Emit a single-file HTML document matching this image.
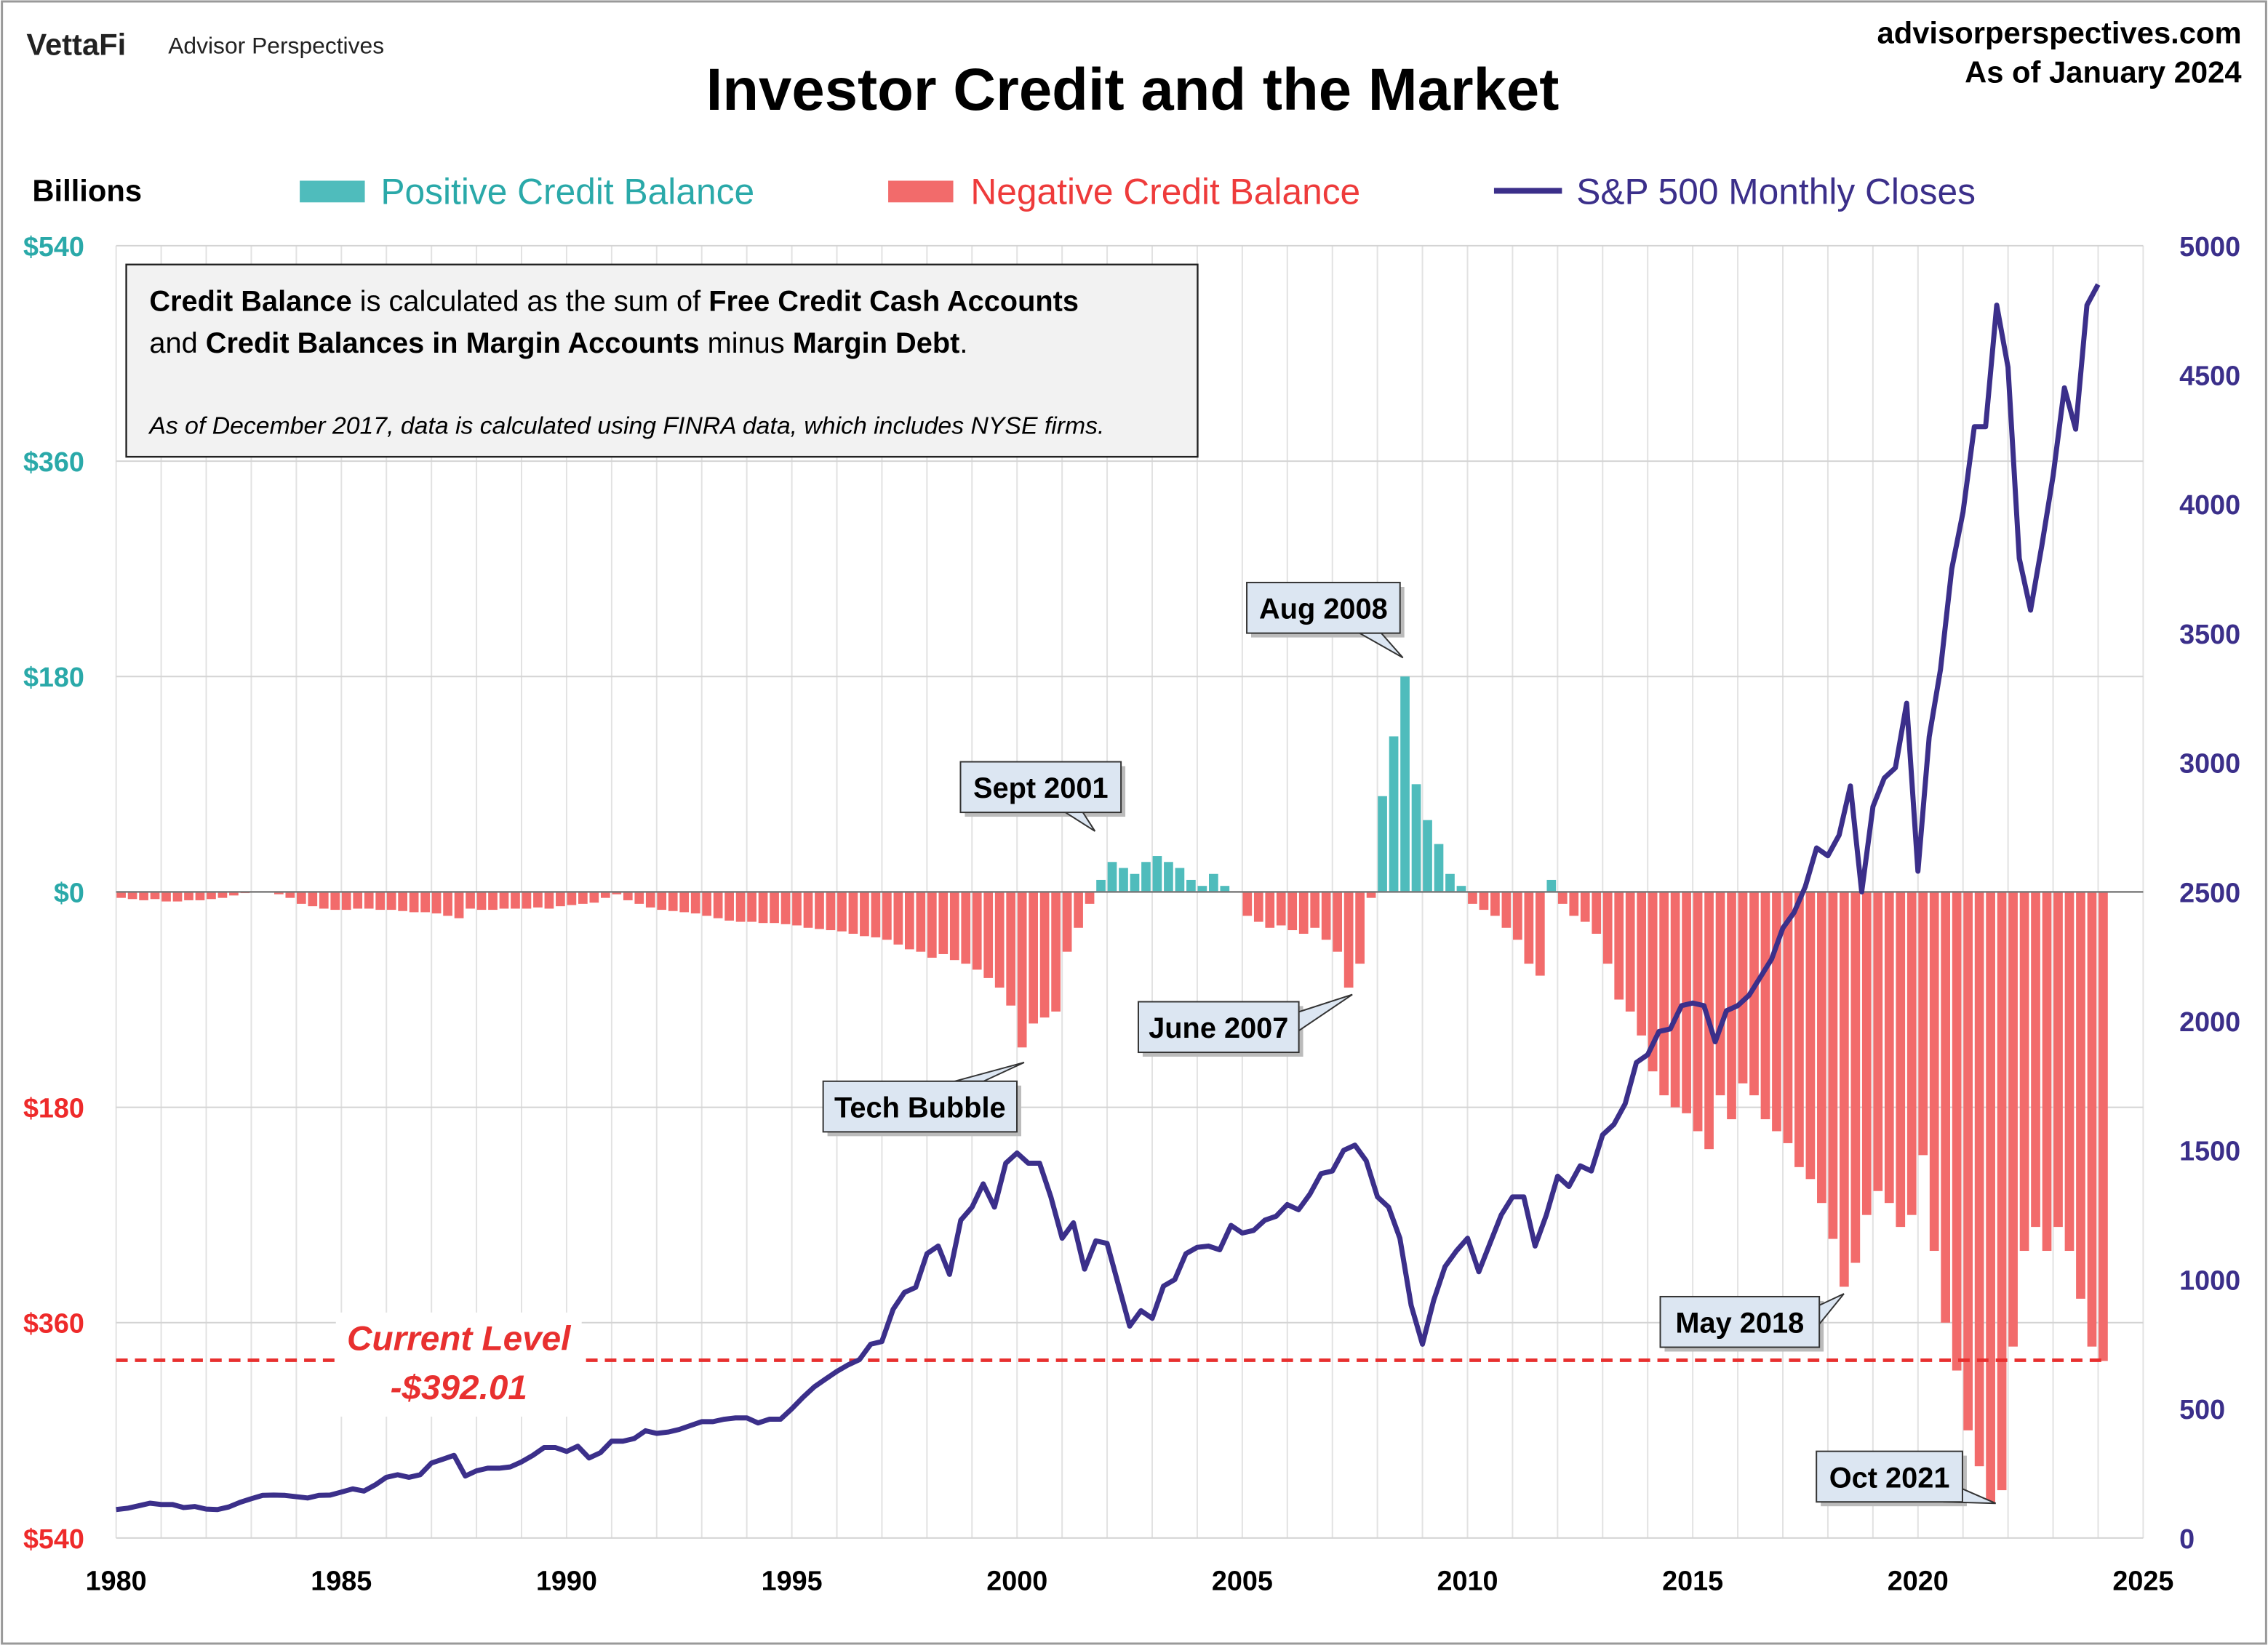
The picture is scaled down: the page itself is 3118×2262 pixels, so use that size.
<!DOCTYPE html>
<html><head><meta charset="utf-8"><style>
html,body{margin:0;padding:0;background:#fff;}
svg{display:block;font-family:"Liberation Sans",sans-serif;}
</style></head><body>
<svg id="chart" width="3118" height="2262" viewBox="0 0 1568 1138" xmlns="http://www.w3.org/2000/svg">
<rect x="1" y="1" width="1566" height="1136" fill="#fff" stroke="#999" stroke-width="1.5"/>
<text x="18" y="38" font-size="21" font-weight="bold" fill="#222">VettaFi</text>
<text x="116" y="37" font-size="16" fill="#222">Advisor Perspectives</text>
<text x="783" y="76" font-size="41" font-weight="bold" text-anchor="middle" fill="#000">Investor Credit and the Market</text>
<text x="1550" y="30" font-size="21" font-weight="bold" text-anchor="end" fill="#000">advisorperspectives.com</text>
<text x="1550" y="57" font-size="21" font-weight="bold" text-anchor="end" fill="#000">As of January 2024</text>
<text x="22" y="139" font-size="21" font-weight="bold" fill="#000">Billions</text>
<g>
<g><rect x="207" y="125" width="45" height="15" fill="#4fbcbc"/><text x="263" y="141" font-size="25" fill="#2aa9a9">Positive Credit Balance</text></g>
<g><rect x="614" y="125" width="45" height="15" fill="#f26b6b"/><text x="671" y="141" font-size="25" fill="#ee3b3b">Negative Credit Balance</text></g>
<g><line x1="1033" y1="132" x2="1080" y2="132" stroke="#3b2f8a" stroke-width="4"/><text x="1090" y="141" font-size="25" fill="#3b2f8a">S&amp;P 500 Monthly Closes</text></g>
</g>
<g id="grid"></g>
<g id="bars"></g>
<line x1="80" y1="617" x2="1482" y2="617" stroke="#777" stroke-width="1.2"/>
<line x1="80" y1="941" x2="1455" y2="941" stroke="#e8302f" stroke-width="2.5" stroke-dasharray="8,5"/>
<path id="spline" fill="none" stroke="#3b2f8a" stroke-width="3.5" stroke-linejoin="round"/>
<g id="axes"></g>
<g>
<rect x="87" y="183" width="741" height="133" fill="#f2f2f2" stroke="#222" stroke-width="1.2"/>
<text x="103" y="215" font-size="20" fill="#000"><tspan font-weight="bold">Credit Balance</tspan> is calculated as the sum of <tspan font-weight="bold">Free Credit Cash Accounts</tspan></text>
<text x="103" y="244" font-size="20" fill="#000">and <tspan font-weight="bold">Credit Balances in Margin Accounts</tspan> minus <tspan font-weight="bold">Margin Debt</tspan>.</text>
<text x="103" y="300" font-size="17" font-style="italic" fill="#000">As of December 2017, data is calculated using FINRA data, which includes NYSE firms.</text>
</g>
<g>
<rect x="232" y="908" width="170" height="72" fill="#fff"/>
<text x="317" y="934" font-size="24" font-weight="bold" font-style="italic" text-anchor="middle" fill="#e8302f">Current Level</text>
<text x="317" y="968" font-size="24" font-weight="bold" font-style="italic" text-anchor="middle" fill="#e8302f">-$392.01</text>
</g>
<g id="callouts"></g>
</svg>
<script>
const NS="http://www.w3.org/2000/svg";
const startYear=1980;
const credit=[-5,-6,-7,-6,-8,-8,-7,-7,-6,-5,-3,-1,0,0,-2,-5,-10,-12,-14,-15,-15,-14,-14,-15,-15,-16,-17,-17,-18,-20,-22,-14,-15,-15,-14,-14,-14,-13,-14,-12,-11,-10,-9,-5,-2,-7,-10,-13,-15,-16,-17,-18,-20,-22,-24,-25,-25,-26,-26,-27,-28,-30,-31,-32,-33,-35,-37,-38,-40,-44,-48,-50,-55,-52,-57,-60,-65,-72,-80,-95,-130,-110,-105,-100,-50,-30,-10,10,25,20,15,25,30,25,20,10,5,15,5,0,-20,-25,-30,-28,-32,-35,-30,-40,-50,-80,-60,-5,80,130,180,90,60,40,15,5,-10,-15,-20,-30,-40,-60,-70,10,-10,-20,-25,-35,-60,-90,-100,-120,-150,-170,-180,-185,-200,-215,-170,-190,-160,-170,-190,-200,-210,-230,-240,-260,-290,-330,-310,-270,-250,-260,-280,-270,-220,-300,-360,-400,-450,-480,-510,-500,-380,-300,-280,-300,-280,-300,-340,-380,-392];
const sp500=[110,115,125,135,130,130,118,122,112,110,120,138,152,165,166,165,160,155,165,166,178,190,182,205,235,245,235,245,290,305,320,240,260,270,270,275,295,320,350,350,335,355,310,330,375,375,385,415,405,410,420,435,450,450,460,465,465,445,460,460,500,545,585,615,645,670,690,750,760,885,950,970,1100,1130,1020,1230,1280,1370,1280,1450,1490,1450,1450,1320,1160,1220,1040,1150,1140,980,820,880,850,975,1000,1100,1125,1130,1115,1210,1180,1190,1230,1245,1290,1270,1330,1410,1420,1500,1520,1460,1320,1280,1160,900,750,920,1050,1110,1160,1030,1140,1250,1320,1320,1130,1250,1400,1360,1440,1420,1560,1600,1680,1840,1870,1960,1970,2060,2070,2060,1920,2040,2060,2100,2170,2240,2360,2420,2520,2670,2640,2720,2910,2500,2830,2940,2980,3230,2580,3100,3360,3750,3970,4300,4300,4770,4530,3790,3590,3840,4110,4450,4290,4770,4850];
const leftTicks=[540,360,180,0,-180,-360,-540];
const rightTicks=[0,500,1000,1500,2000,2500,3000,3500,4000,4500,5000];
const xTicks=[1980,1985,1990,1995,2000,2005,2010,2015,2020,2025];
const X=t=>80+(t-1980)*(1402/45);
const YL=v=>617-v*(447/540);
const YR=v=>1064-v*(894/5000);
function mk(tag,attrs,parent){const e=document.createElementNS(NS,tag);for(const k in attrs)e.setAttribute(k,attrs[k]);parent.appendChild(e);return e;}
const grid=document.getElementById('grid');
for(let y=1980;y<=2025;y++){
  const l=mk('line',{x1:X(y),x2:X(y),y1:170,y2:1064,stroke:'#e2e2e2','stroke-width':1},grid);
  
  
}
leftTicks.forEach(v=>{
  const l=mk('line',{x1:80,x2:1482,y1:YL(v),y2:YL(v),stroke:'#d4d4d4','stroke-width':1},grid);
  
  
});
const bars=document.getElementById('bars');
const bw=1402/45/4;
credit.forEach((v,i)=>{
  const t=startYear+i/4;
  const y0=YL(0),y1=YL(v);
  const r=mk('rect',{x:X(t)+0.3,y:Math.min(y0,y1),width:bw-1.4,height:Math.abs(y1-y0),fill:v>=0?'#4fbcbc':'#f26b6b'},bars);
  
  
});
let d='';
sp500.forEach((v,i)=>{const t=startYear+i/4;d+=(i?'L':'M')+X(t).toFixed(1)+','+YR(v).toFixed(1);});
document.getElementById('spline').setAttribute('d',d);
const axes=document.getElementById('axes');
leftTicks.forEach(v=>{
  const t=mk('text',{x:58,y:YL(v)+7,'font-size':19,'font-weight':'bold','text-anchor':'end',fill:v>=0?'#2aa9a9':'#ee2a2a'},axes);
  t.textContent='$'+Math.abs(v);
  
  
});
rightTicks.forEach(v=>{
  const t=mk('text',{x:1507,y:YR(v)+7,'font-size':19,'font-weight':'bold',fill:'#3b2f8a'},axes);
  t.textContent=v;
  
  
});
xTicks.forEach(v=>{
  const t=mk('text',{x:X(v),y:1100,'font-size':19,'font-weight':'bold','text-anchor':'middle',fill:'#000'},axes);
  t.textContent=v;
  
  
});
const callouts=[
 ['Aug 2008',862,403,106,[[940,438],[955,438],[970,455]]],
 ['Sept 2001',664,527,111,[[735,561],[748,561],[757,575]]],
 ['June 2007',787,693,111,[[898,700],[898,713],[935,688]]],
 ['Tech Bubble',569,748,134,[[660,748],[680,748],[708,735]]],
 ['May 2018',1148,897,110,[[1258,903],[1258,916],[1275,895]]],
 ['Oct 2021',1256,1004,101,[[1345,1039],[1357,1030],[1380,1040]]]
];
const cg=document.getElementById('callouts');
callouts.forEach(c=>{
  const g=mk('g',{},cg);
  
  
  mk('rect',{x:c[1]+3,y:c[2]+3,width:c[3],height:35,fill:'#bbb'},g);
  mk('polygon',{points:c[4].map(p=>p.join(',')).join(' '),fill:'#dce6f2',stroke:'#333','stroke-width':1},g);
  mk('rect',{x:c[1],y:c[2],width:c[3],height:35,fill:'#dce6f2',stroke:'#333','stroke-width':1},g);
  const t=mk('text',{x:c[1]+c[3]/2,y:c[2]+25,'font-size':20,'font-weight':'bold','text-anchor':'middle',fill:'#000'},g);
  t.textContent=c[0];
});
</script>
</body></html>
